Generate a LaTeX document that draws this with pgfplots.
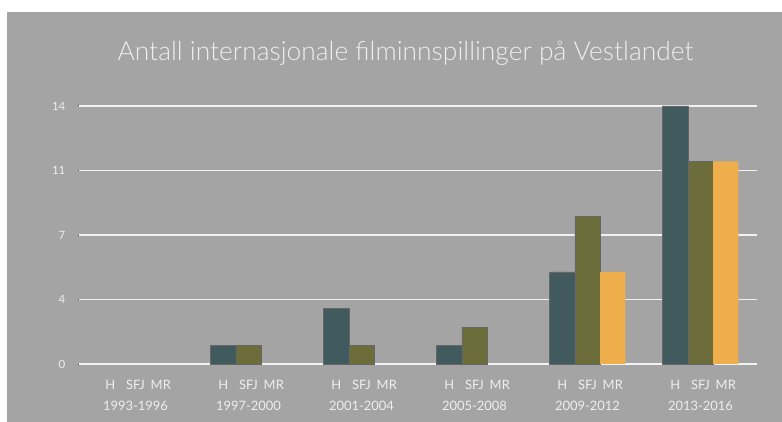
\documentclass[border=0pt]{standalone}
\usepackage{pgfplots}
\pgfplotsset{compat=1.18}
\usepackage{fontspec}
\setmainfont{Lato}[UprightFont={* Light}]
\newfontfamily\labfont{Lato}
\definecolor{bggray}{HTML}{A4A4A4}
\definecolor{cH}{HTML}{415A5E}
\definecolor{cSFJ}{HTML}{6D6C3B}
\definecolor{cMR}{HTML}{EFAE4C}
\definecolor{txt}{HTML}{EEEEEE}
\definecolor{gridc}{HTML}{F2F2F2}
\begin{document}
\begin{tikzpicture}
\path[use as bounding box] (0,0) rectangle (782bp,422bp);
\fill[white] (0,0) rectangle (782bp,422bp);
\fill[bggray] (7bp,0) rectangle (782bp,410bp);
\node[text=txt, font=\fontsize{26.5}{30}\selectfont, anchor=base] at (405.5bp,361bp) {Antall internasjonale filminnspillinger på Vestlandet};
\begin{axis}[
  at={(79bp,58bp)}, anchor=south west,
  scale only axis, width=678bp, height=258bp,
  xmin=-0.5, xmax=5.5, ymin=0, ymax=14,
  ybar=0pt, bar width=25.3bp,
  axis line style={draw=none},
  xmajorgrids=false, ymajorgrids=true,
  grid style={draw=gridc, line width=1.1pt},
  ytick={0,3.5,7,10.5,14}, yticklabels={0,4,7,11,14},
  yticklabel style={text=txt, font=\labfont\fontsize{11.5}{12}\selectfont, anchor=east, inner sep=0pt, xshift=-12bp},
  xtick={-0.2239,0,0.2239, 0.7761,1,1.2239, 1.7761,2,2.2239, 2.7761,3,3.2239, 3.7761,4,4.2239, 4.7761,5,5.2239},
  xticklabels={H,SFJ,MR,H,SFJ,MR,H,SFJ,MR,H,SFJ,MR,H,SFJ,MR,H,SFJ,MR},
  xticklabel style={text=txt, font=\labfont\fontsize{13}{14}\selectfont, anchor=base, inner sep=0pt, yshift=-24bp},
  extra x ticks={0,1,2,3,4,5},
  extra x tick labels={1993-1996,1997-2000,2001-2004,2005-2008,2009-2012,2013-2016},
  extra x tick style={xticklabel style={yshift=-21bp}, xmajorgrids=false},
  xtick style={draw=none},
  ytick style={draw=black!70, line width=1pt},
  major tick length=1.5bp,
  xtick pos=left, ytick pos=left, tick align=outside,
  clip=false,
]
\addplot[fill=cH, draw=black!60, line width=0.5pt] coordinates {(1,1) (2,3) (3,1) (4,5) (5,14)};
\addplot[fill=cSFJ, draw=black!60, line width=0.5pt] coordinates {(1,1) (2,1) (3,2) (4,8) (5,11)};
\addplot[fill=cMR, draw=none] coordinates {(4,5) (5,11)};
\end{axis}
\end{tikzpicture}
\end{document}
